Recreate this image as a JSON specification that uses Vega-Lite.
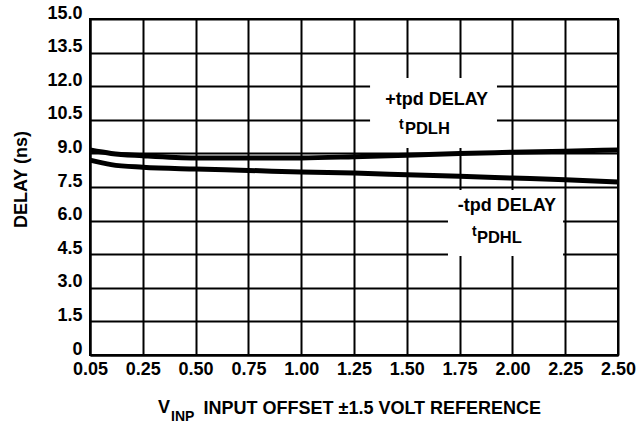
{
  "$schema": "https://vega.github.io/schema/vega-lite/v6.json",
  "width": 528,
  "height": 336,
  "autosize": {"type": "none"},
  "padding": {"left": 90, "top": 19, "right": 20, "bottom": 70},
  "background": "white",
  "config": {
    "font": "Liberation Sans",
    "view": {"stroke": "black", "strokeWidth": 2},
    "axis": {
      "grid": true,
      "gridColor": "black",
      "gridWidth": 2,
      "gridOpacity": 1,
      "domain": true,
      "domainColor": "black",
      "domainWidth": 2,
      "ticks": false,
      "labelFont": "Liberation Sans",
      "labelFontSize": 18,
      "labelFontWeight": "bold",
      "labelColor": "black",
      "titleFont": "Liberation Sans",
      "titleFontSize": 18,
      "titleFontWeight": "bold",
      "titleColor": "black"
    }
  },
  "resolve": {"axis": {"x": "independent", "y": "independent"}},
  "datasets": {
    "curves": [
      {"x": 0.0, "delay": 9.15, "series": "tPDLH"},
      {"x": 0.1, "delay": 9.0, "series": "tPDLH"},
      {"x": 0.25, "delay": 8.9, "series": "tPDLH"},
      {"x": 0.5, "delay": 8.8, "series": "tPDLH"},
      {"x": 0.75, "delay": 8.8, "series": "tPDLH"},
      {"x": 1.0, "delay": 8.8, "series": "tPDLH"},
      {"x": 1.25, "delay": 8.85, "series": "tPDLH"},
      {"x": 1.5, "delay": 8.92, "series": "tPDLH"},
      {"x": 1.75, "delay": 9.0, "series": "tPDLH"},
      {"x": 2.0, "delay": 9.05, "series": "tPDLH"},
      {"x": 2.25, "delay": 9.1, "series": "tPDLH"},
      {"x": 2.5, "delay": 9.15, "series": "tPDLH"},
      {"x": 0.0, "delay": 8.7, "series": "tPDHL"},
      {"x": 0.1, "delay": 8.5, "series": "tPDHL"},
      {"x": 0.25, "delay": 8.38, "series": "tPDHL"},
      {"x": 0.5, "delay": 8.3, "series": "tPDHL"},
      {"x": 0.75, "delay": 8.24, "series": "tPDHL"},
      {"x": 1.0, "delay": 8.17, "series": "tPDHL"},
      {"x": 1.25, "delay": 8.12, "series": "tPDHL"},
      {"x": 1.5, "delay": 8.05, "series": "tPDHL"},
      {"x": 1.75, "delay": 7.98, "series": "tPDHL"},
      {"x": 2.0, "delay": 7.9, "series": "tPDHL"},
      {"x": 2.25, "delay": 7.82, "series": "tPDHL"},
      {"x": 2.5, "delay": 7.72, "series": "tPDHL"}
    ],
    "one": [{"k": 1}]
  },
  "layer": [
    {
      "data": {"name": "curves"},
      "mark": {"type": "line", "color": "black", "strokeWidth": 5, "interpolate": "monotone", "clip": false},
      "encoding": {
        "x": {
          "field": "x", "type": "quantitative",
          "scale": {"domain": [0, 2.5], "nice": false, "zero": false},
          "axis": {
            "values": [0, 0.25, 0.5, 0.75, 1.0, 1.25, 1.5, 1.75, 2.0, 2.25, 2.5],
            "labelExpr": "datum.value == 0 ? '0.05' : format(datum.value, '.2f')",
            "labelPadding": 5,
            "labelFlush": false,
            "labelOverlap": false,
            "title": "INPUT OFFSET ±1.5 VOLT REFERENCE",
            "titleAnchor": "start",
            "titleAlign": "left",
            "titleBaseline": "alphabetic",
            "titleX": 113,
            "titleY": 58
          }
        },
        "y": {
          "field": "delay", "type": "quantitative",
          "scale": {"domain": [0, 15], "nice": false},
          "axis": {
            "values": [0, 1.5, 3, 4.5, 6, 7.5, 9, 10.5, 12, 13.5, 15],
            "labelExpr": "datum.value == 0 ? '0' : format(datum.value, '.1f')",
            "labelPadding": 8,
            "labelBaseline": "alphabetic",
            "labelOffset": -1,
            "labelFlush": false,
            "labelOverlap": false,
            "title": "DELAY (ns)",
            "titleAngle": -90,
            "titleAlign": "center",
            "titleBaseline": "alphabetic",
            "titleX": -64,
            "titleY": 160
          }
        },
        "detail": {"field": "series"}
      }
    },
    {
      "data": {"name": "one"},
      "mark": {"type": "rect", "fill": "white", "stroke": null},
      "encoding": {
        "x": {"datum": 1.326, "type": "quantitative", "axis": null},
        "x2": {"datum": 1.927},
        "y": {"datum": 12.37, "type": "quantitative", "axis": null},
        "y2": {"datum": 9.24}
      }
    },
    {
      "data": {"name": "one"},
      "mark": {"type": "rect", "fill": "white", "stroke": null},
      "encoding": {
        "x": {"datum": 1.695, "type": "quantitative", "axis": null},
        "x2": {"datum": 2.24},
        "y": {"datum": 7.37, "type": "quantitative", "axis": null},
        "y2": {"datum": 4.42}
      }
    },
    {
      "data": {"values": [{"label": "+tpd DELAY"}]},
      "mark": {"type": "text", "font": "Liberation Sans", "fontWeight": "bold", "fontSize": 18, "align": "center", "baseline": "middle", "color": "black"},
      "encoding": {
        "x": {"datum": 1.641, "type": "quantitative", "axis": null},
        "y": {"datum": 11.4, "type": "quantitative", "axis": null},
        "text": {"field": "label"}
      }
    },
    {
      "data": {"values": [{"label": "t"}]},
      "mark": {"type": "text", "font": "Liberation Sans", "fontWeight": "bold", "fontSize": 14, "align": "left", "baseline": "middle", "color": "black"},
      "encoding": {
        "x": {"datum": 1.463, "type": "quantitative", "axis": null},
        "y": {"datum": 10.27, "type": "quantitative", "axis": null},
        "text": {"field": "label"}
      }
    },
    {
      "data": {"values": [{"label": "PDLH"}]},
      "mark": {"type": "text", "font": "Liberation Sans", "fontWeight": "bold", "fontSize": 16.5, "align": "left", "baseline": "middle", "color": "black"},
      "encoding": {
        "x": {"datum": 1.491, "type": "quantitative", "axis": null},
        "y": {"datum": 10.09, "type": "quantitative", "axis": null},
        "text": {"field": "label"}
      }
    },
    {
      "data": {"values": [{"label": "-tpd DELAY"}]},
      "mark": {"type": "text", "font": "Liberation Sans", "fontWeight": "bold", "fontSize": 18, "align": "center", "baseline": "middle", "color": "black"},
      "encoding": {
        "x": {"datum": 1.974, "type": "quantitative", "axis": null},
        "y": {"datum": 6.63, "type": "quantitative", "axis": null},
        "text": {"field": "label"}
      }
    },
    {
      "data": {"values": [{"label": "t"}]},
      "mark": {"type": "text", "font": "Liberation Sans", "fontWeight": "bold", "fontSize": 14, "align": "left", "baseline": "middle", "color": "black"},
      "encoding": {
        "x": {"datum": 1.809, "type": "quantitative", "axis": null},
        "y": {"datum": 5.49, "type": "quantitative", "axis": null},
        "text": {"field": "label"}
      }
    },
    {
      "data": {"values": [{"label": "PDHL"}]},
      "mark": {"type": "text", "font": "Liberation Sans", "fontWeight": "bold", "fontSize": 16.5, "align": "left", "baseline": "middle", "color": "black"},
      "encoding": {
        "x": {"datum": 1.832, "type": "quantitative", "axis": null},
        "y": {"datum": 5.22, "type": "quantitative", "axis": null},
        "text": {"field": "label"}
      }
    },
    {
      "data": {"values": [{"label": "V"}]},
      "mark": {"type": "text", "font": "Liberation Sans", "fontWeight": "bold", "fontSize": 18, "align": "left", "baseline": "alphabetic", "color": "black", "clip": false},
      "encoding": {
        "x": {"datum": 0.322, "type": "quantitative", "axis": null},
        "y": {"datum": -2.59, "type": "quantitative", "axis": null},
        "text": {"field": "label"}
      }
    },
    {
      "data": {"values": [{"label": "INP"}]},
      "mark": {"type": "text", "font": "Liberation Sans", "fontWeight": "bold", "fontSize": 14, "align": "left", "baseline": "alphabetic", "color": "black", "clip": false},
      "encoding": {
        "x": {"datum": 0.384, "type": "quantitative", "axis": null},
        "y": {"datum": -2.95, "type": "quantitative", "axis": null},
        "text": {"field": "label"}
      }
    }
  ]
}
